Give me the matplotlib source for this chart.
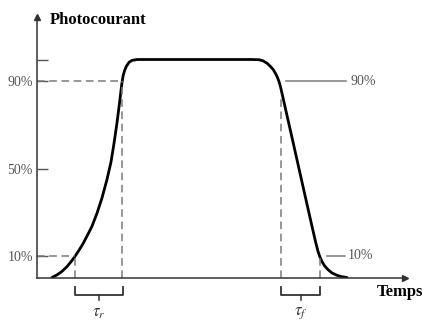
"""
Courbe de photocourant: temps de montee et de descente
"""
import numpy as np
import matplotlib.pyplot as plt

# Points (temps en unites arbitraires, photocourant en %)
t_rise = [15, 20, 25, 30, 35, 38, 42, 46, 50, 55, 60, 65, 70, 74, 77, 80, 82.5, 84.7,
          86, 87.5, 89.5, 92, 95, 100]
v_rise = [0, 1.2, 2.8, 5, 7.8, 9.7, 12.5, 15.5, 19, 23.5, 29.5, 36.5, 45, 53, 61.5, 71, 80, 88.5,
          92.3, 94.8, 97, 98.7, 99.6, 100]
t_fall = [215, 222, 226, 230, 233.5, 236.5, 239, 240.5, 242, 243.5, 245, 250, 255, 260, 265,
          270, 275, 278.5, 281, 283, 285, 287.5, 291, 295, 300, 305, 310]
v_fall = [100, 99.9, 99.4, 98.3, 96.8, 95.2, 93.2, 91.7, 89.9, 87.5, 84.5, 74.3, 64.2, 54, 43.8,
          33.6, 23.5, 16.5, 12, 9.3, 7.3, 5.4, 3.6, 2.1, 1, 0.35, 0]

# Niveaux et instants caracteristiques
niveaux = [10, 50, 90, 100]
etiquettes = ['10%', '50%', '90%', '']
t10_montee, t90_montee = 38, 85
t90_desc, t10_desc = 244, 283

gris = '#7a7a7a'
plt.rcParams['font.family'] = ['Liberation Serif', 'DejaVu Serif']
plt.rcParams['mathtext.fontset'] = 'stix'

fig = plt.figure(figsize=(4.23, 3.20), dpi=100)
ax = fig.add_axes([37/423, 42.5/320, 368/423, 260.5/320])
ax.set_xlim(0, 368)
ax.set_ylim(0, 119.5)

# Courbe
t = t_rise + t_fall
v = v_rise + v_fall
ax.plot(t, v, color='black', lw=2, solid_capstyle='round', solid_joinstyle='round')

# Axes avec fleches
for s in ['top', 'right']:
    ax.spines[s].set_visible(False)
for s in ['left', 'bottom']:
    ax.spines[s].set_linewidth(1.1)
    ax.spines[s].set_color('#333333')
ax.plot(0, 119.5, marker='^', color='#333333', ms=4, clip_on=False)
ax.plot(368, 0, marker='>', color='#333333', ms=4, clip_on=False)
ax.set_xticks([])
ax.set_yticks(niveaux)
ax.set_yticklabels(etiquettes, color='#555555', fontsize=10)
ax.tick_params(axis='y', direction='in', length=8, width=1, color='#555555', pad=3)

# Lignes pointillees (90% et 10%)
dash = dict(color=gris, lw=1.1, ls=(0, (5, 3)))
ax.plot([0, t90_montee], [90, 90], **dash)
ax.plot([0, t10_montee], [10, 10], **dash)
ax.plot([t90_montee, t90_montee], [0, 90], **dash)
ax.plot([t10_montee, t10_montee], [0, 10], **dash)
ax.plot([t90_desc, t90_desc], [0, 84], **dash)
ax.plot([t10_desc, t10_desc], [0, 9.3], **dash)

# Reperes a droite
ax.plot([249, 309], [90, 90], color=gris, lw=1.1)
ax.text(313, 90, '90%', color='#555555', fontsize=10, va='center', ha='left')
ax.plot([290, 308], [10, 10], color=gris, lw=1.1)
ax.text(310.5, 10, '10%', color='#555555', fontsize=10, va='center', ha='left')

# Accolades tau_r et tau_f
for a, b, lab in [(t10_montee, t90_montee + 1, r'$\tau_r$'), (t90_desc, t10_desc, r'$\tau_f$')]:
    m = (a + b) / 2
    ax.plot([a, a, b, b], [-4.4, -8, -8, -4.4], color='#333333', lw=1.3, clip_on=False)
    ax.plot([m, m], [-8, -10.3], color='#333333', lw=1.1, clip_on=False)
    ax.text(m, -16.5, lab, fontsize=12, ha='center', va='center', color='#333333')

# Titres des axes
ax.text(13, 118, 'Photocourant', fontsize=12, fontweight='bold', va='center', ha='left', clip_on=False)
ax.text(339.7, -6.5, 'Temps', fontsize=12, fontweight='bold', va='center', ha='left', clip_on=False)

fig.savefig('out.png', dpi=100)
